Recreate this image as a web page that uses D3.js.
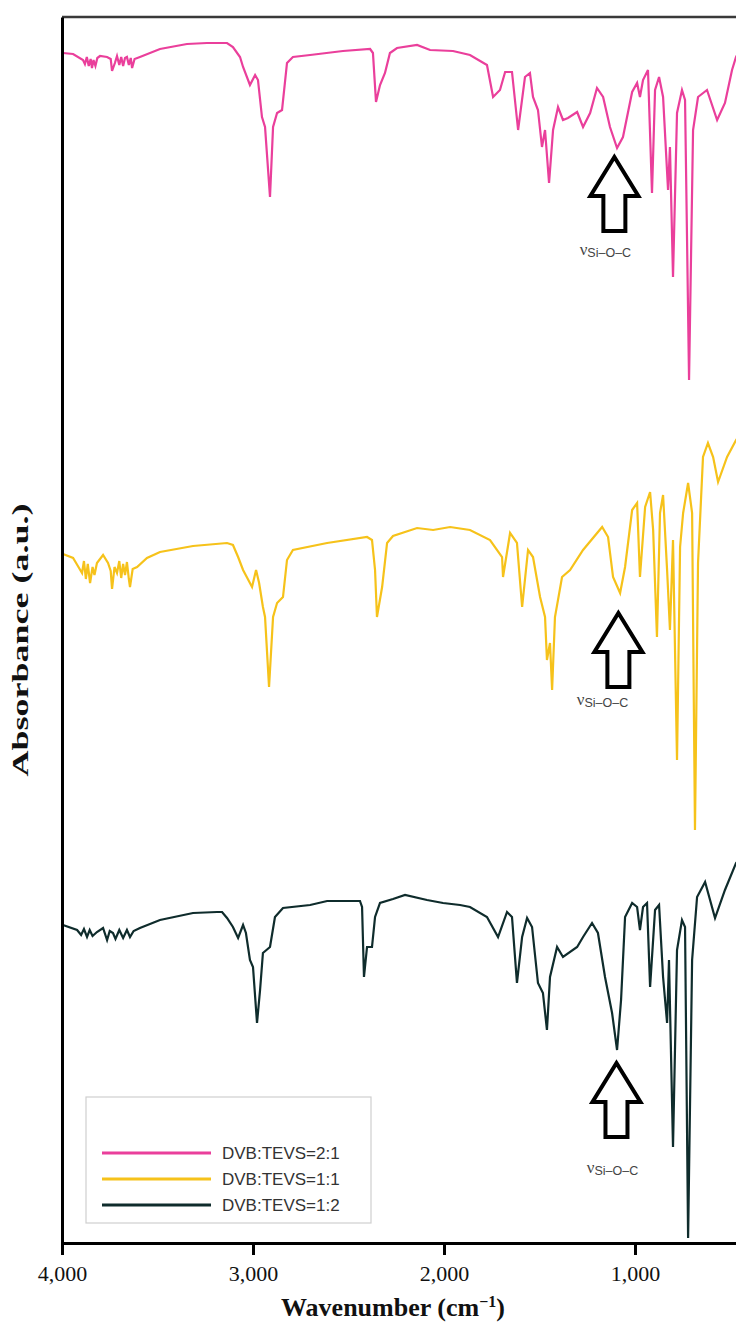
<!DOCTYPE html>
<html>
<head>
<meta charset="utf-8">
<script src="https://cdn.jsdelivr.net/npm/d3@7"></script>
<style>
  body { margin: 0; background: #fff; }
  text { font-family: "Liberation Serif", "DejaVu Serif", serif; }
</style>
</head>
<body>
<script>
// FTIR spectra, wavenumber (cm-1) vs absorbance (a.u., stacked)
const seriesNames = ["DVB:TEVS=2:1", "DVB:TEVS=1:1", "DVB:TEVS=1:2"];
const seriesColors = ["#ea3f9b", "#f6c21a", "#0f2c2c"];
const xTicks = [4000, 3000, 2000, 1000];

const spec21 = [
  [3995,1190],[3942,1189],[3890,1183],[3880,1179],[3870,1186],[3860,1177],[3850,1184],[3843,1175],
  [3835,1183],[3825,1177],[3815,1185],[3801,1187],[3764,1186],[3745,1184],[3738,1172],[3723,1180],
  [3712,1187],[3700,1178],[3690,1186],[3680,1177],[3670,1185],[3660,1186],[3650,1178],[3640,1185],
  [3633,1175],[3620,1184],[3592,1186],[3487,1194],[3346,1199],[3241,1200],[3136,1200],[3105,1196],
  [3068,1186],[3052,1176],[3016,1158],[2989,1168],[2974,1163],[2953,1126],[2937,1116],[2911,1046],
  [2895,1116],[2874,1130],[2848,1133],[2822,1180],[2791,1186],[2701,1188],[2529,1192],[2387,1194],
  [2372,1190],[2356,1141],[2335,1158],[2309,1170],[2283,1190],[2246,1195],[2141,1198],[2073,1193],
  [1953,1192],[1864,1188],[1775,1178],[1743,1146],[1707,1153],[1680,1171],[1644,1171],[1612,1113],
  [1576,1166],[1550,1170],[1534,1146],[1508,1133],[1487,1096],[1471,1113],[1450,1060],[1429,1113],
  [1403,1136],[1377,1123],[1351,1125],[1303,1131],[1272,1116],[1235,1130],[1199,1155],[1167,1146],
  [1131,1116],[1094,1095],[1063,1106],[1015,1151],[989,1160],[974,1146],[958,1163],[932,1173],
  [911,1050],[895,1153],[874,1166],[853,1146],[827,1053],[817,1096],[801,966],[780,1130],
  [754,1153],[738,1143],[717,863],[696,1113],[670,1146],[623,1153],[570,1123],[529,1140],
  [492,1173],[471,1186],[424,1203],[400,1206]
];

const spec11 = [
  [3995,689],[3942,685],[3920,678],[3895,670],[3885,682],[3875,664],[3865,679],[3853,660],
  [3840,676],[3830,668],[3817,680],[3785,688],[3759,680],[3745,672],[3738,654],[3725,676],
  [3712,670],[3700,682],[3690,665],[3680,679],[3670,668],[3660,681],[3650,664],[3644,656],
  [3630,674],[3607,676],[3555,685],[3487,691],[3314,697],[3136,700],[3105,698],[3078,686],
  [3052,673],[3005,656],[2984,673],[2968,660],[2948,636],[2937,626],[2916,556],[2895,626],
  [2874,640],[2843,646],[2822,683],[2791,693],[2612,700],[2403,706],[2377,703],[2361,673],
  [2351,626],[2324,656],[2298,700],[2267,707],[2141,715],[2057,713],[1968,716],[1864,713],
  [1759,703],[1696,686],[1691,666],[1654,710],[1618,700],[1591,636],[1560,693],[1534,686],
  [1497,646],[1471,626],[1461,583],[1445,600],[1434,553],[1419,626],[1382,666],[1340,673],
  [1272,693],[1172,716],[1141,706],[1115,666],[1078,650],[1052,676],[1015,733],[989,740],
  [974,666],[947,736],[921,751],[905,713],[885,606],[869,730],[853,748],[832,673],
  [817,613],[801,703],[780,483],[764,696],[748,730],[722,760],[701,730],[686,413],
  [670,680],[644,786],[618,800],[591,786],[565,761],[518,786],[471,803],[400,820]
];

const spec12 = [
  [3995,318],[3921,313],[3900,308],[3885,314],[3869,306],[3855,313],[3840,307],[3817,311],
  [3785,315],[3764,303],[3750,312],[3733,310],[3720,304],[3700,313],[3680,305],[3660,313],
  [3644,306],[3625,312],[3592,315],[3487,323],[3314,330],[3188,331],[3162,331],[3136,325],
  [3105,316],[3078,305],[3052,318],[3037,310],[3016,283],[3000,276],[2979,220],[2963,253],
  [2948,290],[2911,296],[2885,326],[2843,335],[2701,338],[2612,342],[2440,342],[2429,336],
  [2419,266],[2403,296],[2377,296],[2361,326],[2335,340],[2267,344],[2204,348],[2089,343],
  [2005,340],[1916,338],[1864,336],[1775,326],[1717,306],[1670,331],[1644,326],[1618,260],
  [1591,306],[1565,325],[1539,316],[1508,260],[1482,250],[1461,213],[1445,266],[1408,296],
  [1377,286],[1303,296],[1272,306],[1225,320],[1194,310],[1157,266],[1120,230],[1094,193],
  [1073,243],[1052,326],[1015,340],[989,336],[974,313],[958,336],[937,340],[921,256],
  [895,333],[874,338],[853,266],[832,220],[822,283],[801,96],[780,293],[754,323],
  [738,316],[722,5],[701,283],[675,346],[633,361],[581,325],[529,353],[471,380],[400,395]
];

const spectra = [spec21, spec11, spec12];

// nu(Si-O-C) arrows: wavenumber of arrow, tip height, label position
const arrowWn = [1108, 1087, 1097];
const arrowTip = [1086, 630, 180];
const labelWn = [1155, 1170, 1118];
const labelY = [988, 538, 70];

const W = 736, H = 1323;
const padL = 62, padT = 17, padB = 1243;

const svg = d3.select("body").append("svg")
  .attr("width", W).attr("height", H);

const x = d3.scaleLinear().domain([4000, 400]).range([padL, padL + 3600 * 0.191]);
const y = d3.scaleLinear().domain([0, 1226]).range([padB, padT]);

svg.append("clipPath").attr("id", "plot")
  .append("rect").attr("x", padL).attr("y", padT).attr("width", W - padL).attr("height", padB - padT);

// top frame
svg.append("line")
  .attr("x1", padL).attr("x2", W).attr("y1", padT).attr("y2", padT)
  .attr("stroke", "#3a3a3a").attr("stroke-width", 2.5);

const line = d3.line().x(d => x(d[0])).y(d => y(d[1]));

svg.append("g").attr("clip-path", "url(#plot)")
  .selectAll("path")
  .data(spectra)
  .enter()
  .append("path")
  .attr("d", line)
  .attr("fill", "none")
  .attr("stroke", (d, i) => seriesColors[i])
  .attr("stroke-width", 2.2)
  .attr("stroke-linejoin", "miter");

// arrows
const ah = 74, headH = 39, headW = 24, shaftW = 11;
arrowWn.forEach(function(wn, i) {
  const cx = x(wn), ty = y(arrowTip[i]);
  const pts = [
    [cx, ty], [cx + headW, ty + headH], [cx + shaftW, ty + headH],
    [cx + shaftW, ty + ah], [cx - shaftW, ty + ah], [cx - shaftW, ty + headH],
    [cx - headW, ty + headH]
  ];
  svg.append("polygon")
    .attr("points", pts.map(p => p.join(",")).join(" "))
    .attr("fill", "#fff").attr("stroke", "#000").attr("stroke-width", 4)
    .attr("stroke-linejoin", "miter");

  const t = svg.append("text")
    .attr("x", x(labelWn[i])).attr("y", y(labelY[i]))
    .attr("text-anchor", "middle").attr("fill", "#444");
  t.append("tspan").text("ν").style("font-size", "17px");
  t.append("tspan").text("Si–O–C").attr("dy", 2)
    .style("font-family", "'Liberation Sans', Arial, sans-serif").style("font-size", "12.5px");
});

// axes
const xAxis = svg.append("g")
  .attr("transform", "translate(0," + padB + ")")
  .call(d3.axisBottom(x).tickValues(xTicks).tickSize(12).tickSizeOuter(0).tickPadding(10)
    .tickFormat(d3.format(",")));
xAxis.select(".domain").attr("stroke", "#000").attr("stroke-width", 3);
xAxis.selectAll(".tick line").attr("stroke", "#000").attr("stroke-width", 3);
xAxis.selectAll(".tick text")
  .style("font-family", "'Liberation Serif', serif").style("font-size", "22px").attr("fill", "#111");

const yAxis = svg.append("g")
  .attr("transform", "translate(" + padL + ",0)")
  .call(d3.axisLeft(y).tickValues([]).tickSizeOuter(0));
yAxis.select(".domain").attr("stroke", "#000").attr("stroke-width", 3);

const xt = svg.append("text")
  .attr("x", 393).attr("y", 1316)
  .attr("text-anchor", "middle")
  .style("font-size", "26px").style("font-weight", "bold").attr("fill", "#111");
xt.append("tspan").text("Wavenumber (cm");
xt.append("tspan").text("−1").attr("dy", -9).style("font-size", "16px");
xt.append("tspan").text(")").attr("dy", 9);

svg.append("text")
  .attr("transform", "translate(28,640) rotate(-90) scale(1.5,1)")
  .attr("text-anchor", "middle")
  .style("font-size", "24px").style("font-weight", "bold").attr("fill", "#111")
  .text("Absorbance (a.u.)");

// legend
const lg = svg.append("g");
lg.append("rect")
  .attr("x", 86).attr("y", 1097).attr("width", 285).attr("height", 126)
  .attr("fill", "#fff").attr("stroke", "#cfcfcf").attr("stroke-width", 1.2);
seriesNames.forEach(function(name, i) {
  const yy = 1153 + i * 26;
  lg.append("line").attr("x1", 102).attr("x2", 211).attr("y1", yy).attr("y2", yy)
    .attr("stroke", seriesColors[i]).attr("stroke-width", 3);
  lg.append("text").attr("x", 222).attr("y", yy + 6)
    .style("font-family", "'Liberation Sans', Arial, sans-serif").style("font-size", "17px")
    .attr("fill", "#333").text(name);
});
</script>
</body>
</html>
